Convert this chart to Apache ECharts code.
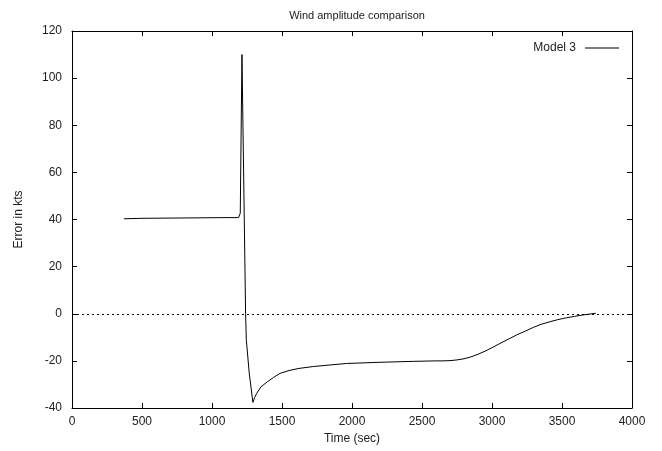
<!DOCTYPE html>
<html><head><meta charset="utf-8">
<script src="https://cdn.jsdelivr.net/npm/echarts@6/dist/echarts.min.js"></script>
<style>html,body{margin:0;padding:0;background:#fff}#c{width:662px;height:451px}</style>
</head><body><div id="c"></div>
<script>
var titleText = 'Wind amplitude comparison';
var xName = 'Time (sec)';
var yName = 'Error in kts';
var seriesName = 'Model 3';
var times = [371, 500, 700, 900, 1100, 1190, 1202, 1214, 1240, 1245, 1266, 1292, 1305, 1319, 1350, 1395, 1440, 1486, 1550, 1621, 1724, 1850, 1962, 2200, 2438, 2600, 2650, 2700, 2750, 2800, 2850, 2900, 2950, 3000, 3057, 3120, 3176, 3240, 3295, 3350, 3414, 3470, 3533, 3590, 3652, 3740];
var errors = [40.3, 40.5, 40.6, 40.7, 40.8, 40.8, 42.7, 110, 0, -11, -25.2, -37.6, -35.5, -33.8, -31, -28.9, -27, -25.3, -24.1, -23.2, -22.4, -21.7, -21.1, -20.6, -20.2, -20.0, -20.0, -19.9, -19.6, -19.1, -18.3, -17.2, -15.9, -14.4, -12.6, -10.7, -9.0, -7.3, -5.8, -4.5, -3.4, -2.5, -1.7, -1.1, -0.5, 0.2];
var xMin = 0, xMax = 4000, xStep = 500;
var yMin = -40, yMax = 120, yStep = 20;

var data = times.map(function(t, i){ return [t, errors[i]]; });
var font = 'Liberation Sans, Arial, sans-serif';
var chart = echarts.init(document.getElementById('c'));
function plain(v){ return String(v); }
function axisBase(){
  return {
    axisLine:{show:true, onZero:false, lineStyle:{color:'#000', width:1}},
    axisTick:{show:true, inside:true, length:5, lineStyle:{color:'#000'}},
    splitLine:{show:false},
    axisLabel:{color:'#222', fontSize:12, fontFamily:font, formatter:plain}
  };
}
var xa = Object.assign(axisBase(), {type:'value', min:xMin, max:xMax, interval:xStep, position:'bottom',
  name:xName, nameLocation:'middle', nameGap:23, nameTextStyle:{color:'#222', fontSize:12, fontFamily:font}});
xa.axisLabel.margin = 8;
var xa2 = Object.assign(axisBase(), {type:'value', min:xMin, max:xMax, interval:xStep, position:'top'});
xa2.axisLabel = {show:false};
var ya = Object.assign(axisBase(), {type:'value', min:yMin, max:yMax, interval:yStep, position:'left',
  name:yName, nameLocation:'middle', nameGap:47, nameTextStyle:{color:'#222', fontSize:12, fontFamily:font}});
ya.axisLabel.margin = 10;
var ya2 = Object.assign(axisBase(), {type:'value', min:yMin, max:yMax, interval:yStep, position:'right'});
ya2.axisLabel = {show:false};

chart.setOption({
  animation:false,
  backgroundColor:'#fff',
  title:{text:titleText, left:352, textAlign:'center', top:5, textStyle:{fontSize:11, fontWeight:'normal', color:'#222', fontFamily:font}},
  legend:{show:true, right:38, top:37, align:'right', icon:'rect', itemWidth:34, itemHeight:1, itemGap:8,
    textStyle:{fontSize:12, color:'#222', fontFamily:font, padding:[0,4,0,0]}, data:[{name:seriesName}], selectedMode:false},
  grid:{left:72, right:30, top:31, bottom:43},
  xAxis:[xa, xa2],
  yAxis:[ya, ya2],
  series:[{
    name:seriesName, type:'line', data:data, showSymbol:false, symbol:'none',
    lineStyle:{color:'#000', width:1}, itemStyle:{color:'#000'},
    markLine:{silent:true, symbol:['none','none'], label:{show:false},
      lineStyle:{color:'#000', type:[2,3], width:1},
      data:[{yAxis:0}]}
  }]
});
</script></body></html>
